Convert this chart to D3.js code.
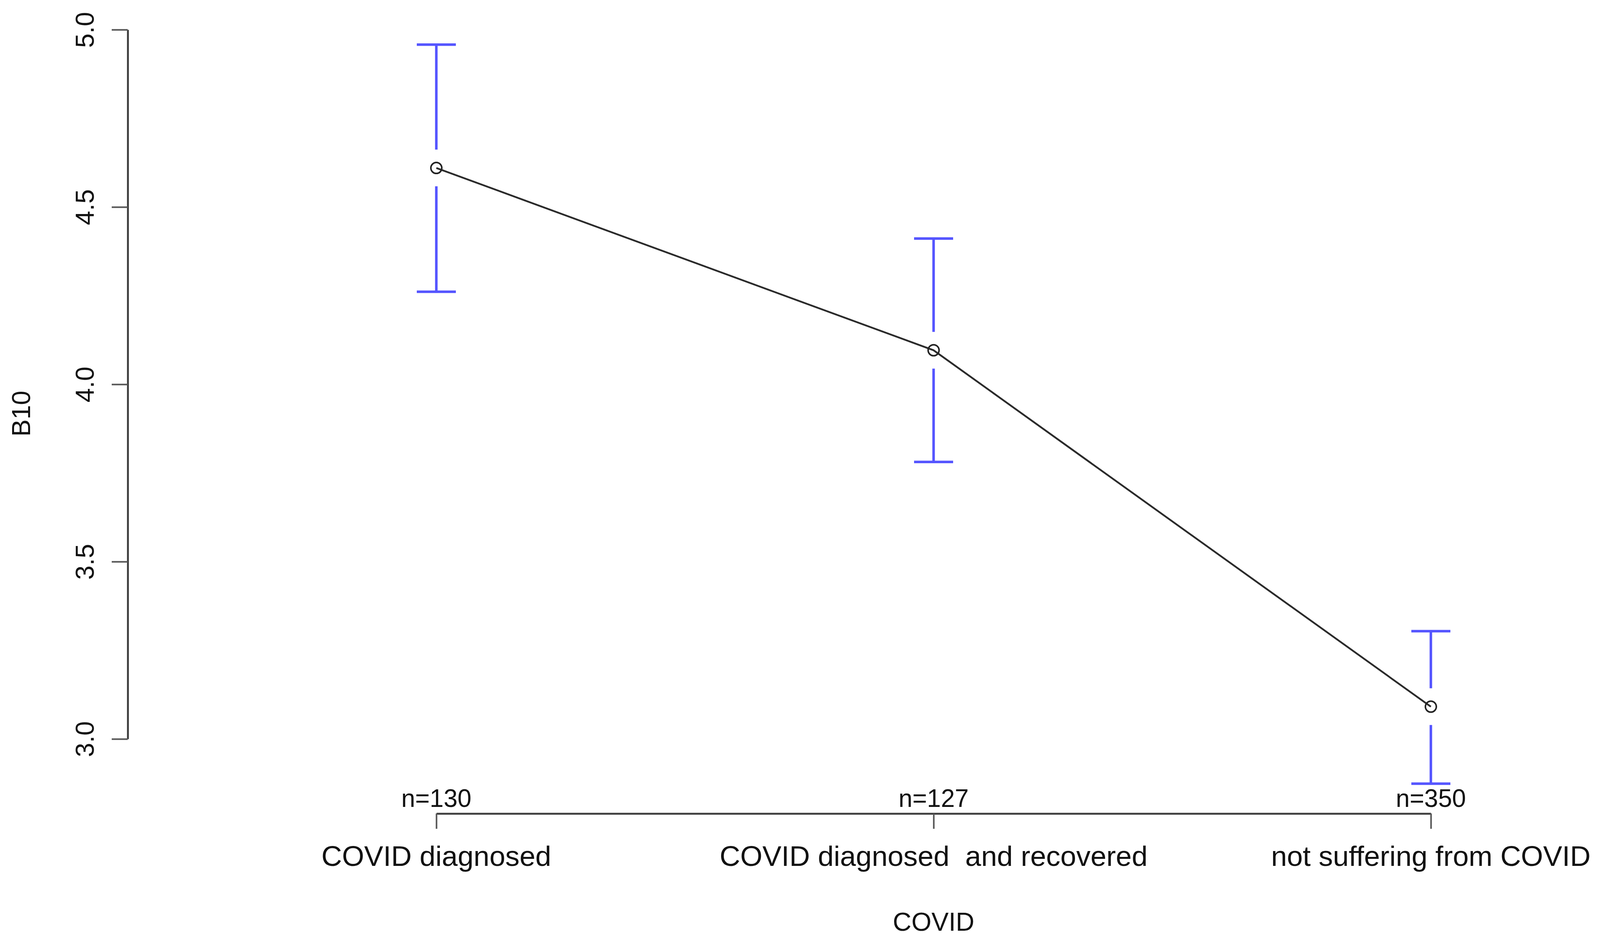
<!DOCTYPE html>
<html>
<head>
<meta charset="utf-8">
<script src="https://cdn.jsdelivr.net/npm/d3@7"></script>
<style>
  html, body { margin: 0; padding: 0; background: #fff; }
  svg { display: block; }
  text { font-family: "Liberation Sans", Arial, sans-serif; fill: #111; }
</style>
</head>
<body>
<script>
// ---- data ----
const categories = ["COVID diagnosed", "COVID diagnosed  and recovered", "not suffering from COVID"];
const means = [4.61, 4.096, 3.091];
const upper = [4.958, 4.411, 3.304];
const lower = [4.261, 3.781, 2.874];
const counts = [130, 127, 350];
const yTicks = [3.0, 3.5, 4.0, 4.5, 5.0];
const xTitle = "COVID";
const yTitle = "B10";

// ---- layout ----
const W = 4098, H = 2417;
const svg = d3.select("body").append("svg")
  .attr("width", W).attr("height", H)
  .attr("viewBox", `0 0 ${W} ${H}`);
svg.append("rect").attr("width", W).attr("height", H).attr("fill", "#fff");

const x = d3.scalePoint().domain(categories).range([1117, 3663]);
const y = d3.scaleLinear().domain([3, 5]).range([1892, 76]);

// ---- y axis ----
const yAxis = svg.append("g")
  .attr("transform", "translate(327,0)")
  .call(d3.axisLeft(y).tickValues(yTicks).tickSize(41).tickSizeOuter(0)
    .tickFormat(d3.format(".1f")));
yAxis.select(".domain").attr("stroke", "#444").attr("stroke-width", 5);
yAxis.selectAll(".tick line").attr("stroke", "#555").attr("stroke-width", 4);
yAxis.selectAll(".tick text")
  .attr("x", 0).attr("dy", 0)
  .attr("transform", "translate(-87,0) rotate(-90)")
  .attr("text-anchor", "middle")
  .attr("font-size", 66)
  .attr("fill", "#111")
  .style("font-family", '"Liberation Sans", Arial, sans-serif');

// ---- x axis ----
const xAxis = svg.append("g")
  .attr("transform", "translate(0,2083)")
  .call(d3.axisBottom(x).tickSize(39).tickSizeOuter(0).tickFormat(""));
xAxis.select(".domain").attr("stroke", "#444").attr("stroke-width", 5);
xAxis.selectAll(".tick line").attr("stroke", "#555").attr("stroke-width", 4);

// category labels
svg.append("g").selectAll("text")
  .data(categories).join("text")
  .attr("x", d => x(d)).attr("y", 2217)
  .attr("text-anchor", "middle")
  .attr("font-size", 73)
  .style("white-space", "pre")
  .attr("xml:space", "preserve")
  .text(d => d);

// n labels
svg.append("g").selectAll("text")
  .data(categories).join("text")
  .attr("x", d => x(d)).attr("y", 2066)
  .attr("text-anchor", "middle")
  .attr("font-size", 64)
  .text((d, i) => "n=" + counts[i]);

// axis titles
svg.append("text")
  .attr("x", 2390).attr("y", 2383)
  .attr("text-anchor", "middle")
  .attr("font-size", 66)
  .text(xTitle);
svg.append("text")
  .attr("transform", "translate(77,1059) rotate(-90)")
  .attr("text-anchor", "middle")
  .attr("font-size", 66)
  .text(yTitle);

// ---- mean line ----
const pts = categories.map((c, i) => ({c, m: means[i], lo: lower[i], hi: upper[i]}));
svg.append("path")
  .datum(pts)
  .attr("fill", "none")
  .attr("stroke", "#2a2a2a")
  .attr("stroke-width", 4.5)
  .attr("d", d3.line().x(d => x(d.c)).y(d => y(d.m)));

// ---- error bars ----
const gap = 47, capHalf = 50;
const eb = svg.append("g").attr("stroke", "#5555ff").attr("stroke-width", 6.5).attr("fill", "none");
eb.selectAll("line.up").data(pts).join("line").attr("class", "up")
  .attr("x1", d => x(d.c)).attr("x2", d => x(d.c))
  .attr("y1", d => y(d.hi)).attr("y2", d => y(d.m) - gap);
eb.selectAll("line.dn").data(pts).join("line").attr("class", "dn")
  .attr("x1", d => x(d.c)).attr("x2", d => x(d.c))
  .attr("y1", d => y(d.m) + gap).attr("y2", d => y(d.lo));
eb.selectAll("line.cu").data(pts).join("line").attr("class", "cu")
  .attr("x1", d => x(d.c) - capHalf).attr("x2", d => x(d.c) + capHalf)
  .attr("y1", d => y(d.hi)).attr("y2", d => y(d.hi));
eb.selectAll("line.cl").data(pts).join("line").attr("class", "cl")
  .attr("x1", d => x(d.c) - capHalf).attr("x2", d => x(d.c) + capHalf)
  .attr("y1", d => y(d.lo)).attr("y2", d => y(d.lo));

// ---- points ----
svg.append("g").selectAll("circle").data(pts).join("circle")
  .attr("cx", d => x(d.c)).attr("cy", d => y(d.m))
  .attr("r", 14)
  .attr("fill", "none")
  .attr("stroke", "#222")
  .attr("stroke-width", 4);
</script>
</body>
</html>
